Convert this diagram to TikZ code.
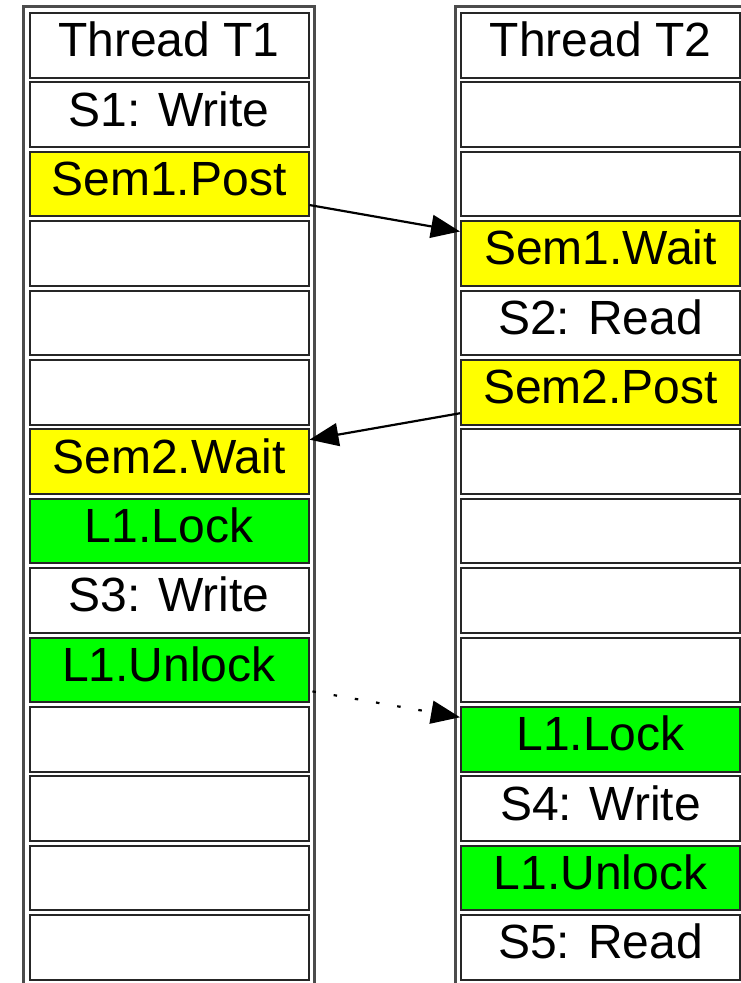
\documentclass[tikz,border=0pt]{standalone}
\usepackage{fontspec}
\setmainfont{Liberation Sans}
\usetikzlibrary{arrows.meta}
\definecolor{semyellow}{HTML}{FFFF00}
\definecolor{lockgreen}{HTML}{00FF00}
\tikzset{
  frame/.style={draw=black!70, line width=3pt},
  cellbox/.style={draw=black!85, line width=2pt, fill=white,
    minimum width=279pt, minimum height=64.5pt, inner sep=0pt,
    text height=34pt, text depth=11pt, font=\fontsize{48}{50}\selectfont},
  sem/.style={fill=semyellow},
  lock/.style={fill=lockgreen},
  link/.style={line width=2.2pt, -{Triangle[length=29pt,width=23pt]}},
}
\begin{document}
\begin{tikzpicture}[x=1pt, y=-1pt]
  \useasboundingbox (0,0) rectangle (741,983);
  \clip (0,0) rectangle (741,983);
  % thread frames
  \draw[frame] (23.5,6) rectangle (314.5,1000);
  \draw[frame] (455.5,6) rectangle (746.5,1000);
  % thread T1 cells
  \foreach \k/\txt/\sty in {0/Thread T1/, 1/S1: Write/, 2/Sem1.Post/sem, 3//, 4//, 5//,
      6/Sem2.Wait/sem, 7/L1.Lock/lock, 8/S3: Write/, 9/L1.Unlock/lock, 10//, 11//, 12//, 13//}
    \node[cellbox, \sty] (a\k) at (169, 45.25+69.4*\k) {\txt};
  % thread T2 cells
  \foreach \k/\txt/\sty in {0/Thread T2/, 1//, 2//, 3/Sem1.Wait/sem, 4/S2: Read/, 5/Sem2.Post/sem,
      6//, 7//, 8//, 9//, 10/L1.Lock/lock, 11/S4: Write/, 12/L1.Unlock/lock, 13/S5: Read/}
    \node[cellbox, \sty] (b\k) at (600.5, 45.25+69.4*\k) {\txt};
  % synchronisation edges
  \draw[link] ([yshift=-21pt]a2.east) -- ([yshift=22pt]b3.west);
  \draw[link] ([yshift=-21pt]b5.west) -- ([yshift=22pt]a6.east);
  \draw[link, dash pattern=on 3.5pt off 18pt, dash phase=-3pt] ([yshift=-21pt]a9.east) -- ([yshift=22pt]b10.west);
\end{tikzpicture}
\end{document}
